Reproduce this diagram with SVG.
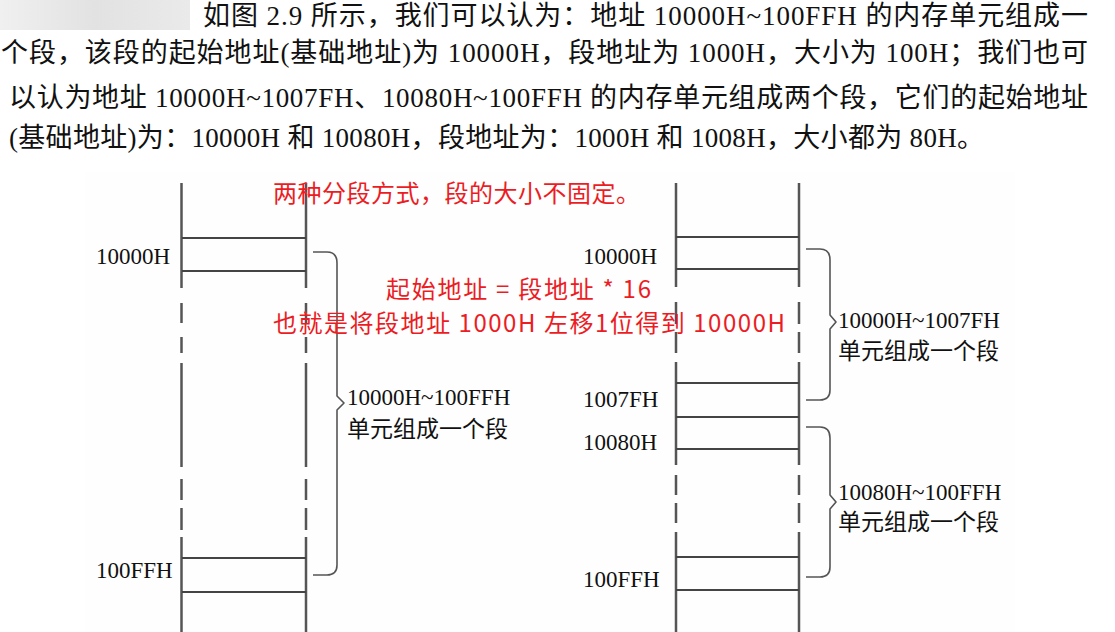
<svg xmlns="http://www.w3.org/2000/svg" width="1115" height="632" viewBox="0 0 1115 632">
<style>
.para{font-family:"Liberation Serif","Noto Sans CJK SC",serif;font-size:27px;fill:#111}
.lbl{font-family:"Liberation Serif","Noto Sans CJK SC",serif;font-size:23px;fill:#111}
.red{font-family:"Noto Sans CJK SC","Liberation Sans",sans-serif;font-size:24px;fill:#ec1c24}
.vl{stroke:#555;stroke-width:2.5;fill:none}
.hl{stroke:#444;stroke-width:2;fill:none}
.br{stroke:#555;stroke-width:1.6;fill:none;stroke-linejoin:round}
</style>
<defs>
<linearGradient id="blurg" x1="0" y1="0" x2="1" y2="0">
<stop offset="0" stop-color="#f0f0f0"/>
<stop offset="0.5" stop-color="#e2e2e2"/>
<stop offset="1" stop-color="#eaeaea"/>
</linearGradient>
</defs>
<rect width="1115" height="632" fill="#ffffff"/>
<rect x="0" y="0" width="190" height="30" fill="url(#blurg)"/>
<rect x="85" y="172" width="930" height="460" fill="#fefefe"/>

<g id="paragraph">
<text class="para" x="203" y="25" textLength="885" lengthAdjust="spacing">如图 2.9 所示，我们可以认为：地址 10000H~100FFH 的内存单元组成一</text>
<text class="para" x="1" y="62" textLength="1087" lengthAdjust="spacing">个段，该段的起始地址(基础地址)为 10000H，段地址为 1000H，大小为 100H；我们也可</text>
<text class="para" x="9" y="107" textLength="1079" lengthAdjust="spacing">以认为地址 10000H~1007FH、10080H~100FFH 的内存单元组成两个段，它们的起始地址</text>
<text class="para" x="9" y="147" textLength="975" lengthAdjust="spacing">(基础地址)为：10000H 和 10080H，段地址为：1000H 和 1008H，大小都为 80H。</text>
</g>

<g id="col-left">
<path class="vl" d="M181.5,183V288M181.5,303V323M181.5,337V353M181.5,363V467M181.5,479V500M181.5,508V530M181.5,537V632"/>
<path class="vl" d="M306,183V288M306,303V323M306,337V353M306,363V467M306,479V500M306,508V530M306,537V632"/>
<path class="hl" d="M182,238H306M182,271H306M182,558H306M182,592H306"/>
</g>

<g id="col-right">
<path class="vl" d="M676,183V287M676,302V324M676,332V353M676,362V465M676,475V495M676,503V523M676,532V632"/>
<path class="vl" d="M799,183V287M799,302V324M799,332V353M799,362V465M799,475V495M799,503V523M799,532V632"/>
<path class="hl" d="M676,237H799M676,269H799M676,383H799M676,417H799M676,449H799M676,557H799M676,590H799"/>
</g>

<g id="addr-labels">
<text class="lbl" x="96" y="264">10000H</text>
<text class="lbl" x="96" y="578">100FFH</text>
<text class="lbl" x="583" y="264">10000H</text>
<text class="lbl" x="583" y="407">1007FH</text>
<text class="lbl" x="583" y="450">10080H</text>
<text class="lbl" x="583" y="587">100FFH</text>
</g>

<g id="connectors">
<path class="br" d="M313,252H327Q337,252 337,263V396L344,403L337,410V565Q337,575 327,575H313"/>
<path class="br" d="M806,249H820Q830,249 830,260V315L836,322L830,329V390Q830,400 820,400H806"/>
<path class="br" d="M806,427H820Q830,427 830,438V495L836,502L830,509V567Q830,577 820,577H806"/>
</g>

<g id="seg-left-label">
<text class="lbl" x="347" y="405">10000H~100FFH</text>
<text class="lbl" x="347" y="437">单元组成一个段</text>
</g>
<g id="seg-right1-label">
<text class="lbl" x="838" y="328">10000H~1007FH</text>
<text class="lbl" x="838" y="359">单元组成一个段</text>
</g>
<g id="seg-right2-label">
<text class="lbl" x="838" y="500">10080H~100FFH</text>
<text class="lbl" x="838" y="530">单元组成一个段</text>
</g>

<g id="notes">
<text class="red" x="273" y="202" textLength="367" lengthAdjust="spacing">两种分段方式，段的大小不固定。</text>
<text class="red" x="386" y="298" textLength="265" lengthAdjust="spacing">起始地址 = 段地址 * 16</text>
<text class="red" x="273" y="332" textLength="512" lengthAdjust="spacing">也就是将段地址 1000H 左移1位得到 10000H</text>
</g>
</svg>
